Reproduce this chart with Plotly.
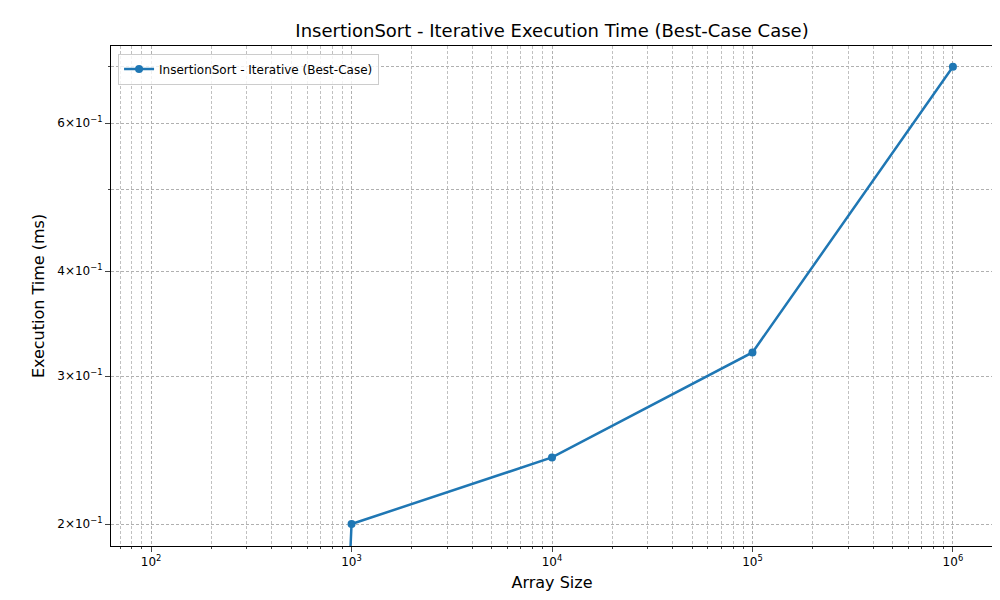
import numpy as np
import plotly.graph_objects as go

sizes = [100, 1000, 10000, 100000, 1000000]
times_ms = [0.0, 0.2, 0.24, 0.32, 0.70]

# log axis can't show 0, clip like matplotlib does (far below the visible range)
y_plot = [t if t > 0 else 1e-6 for t in times_ms]

ytick_vals = [0.2, 0.3, 0.4, 0.6]
ytick_text = ["2×10<sup>−1</sup>", "3×10<sup>−1</sup>", "4×10<sup>−1</sup>", "6×10<sup>−1</sup>"]
ytick_minor = [0.5, 0.7]
xtick_vals = [100, 1000, 10000, 100000, 1000000]
xtick_text = ["10<sup>2</sup>", "10<sup>3</sup>", "10<sup>4</sup>", "10<sup>5</sup>", "10<sup>6</sup>"]
xtick_minor = [m * 10 ** e for e in range(1, 7) for m in range(2, 10)]

fig = go.Figure()
fig.add_trace(go.Scatter(
    x=sizes, y=y_plot, mode="lines+markers",
    name="InsertionSort - Iterative (Best-Case)",
    line=dict(color="#1f77b4", width=2.5),
    marker=dict(color="#1f77b4", size=8),
))

dash = "3px,2px"
fig.update_layout(
    width=1000, height=600,
    paper_bgcolor="white", plot_bgcolor="white",
    margin=dict(l=103, r=15, t=38, b=62),
    font=dict(family="DejaVu Sans", size=12, color="black"),
    title=dict(text="InsertionSort - Iterative Execution Time (Best-Case Case)",
               x=0.544, xanchor="center", y=0.962, yanchor="middle", font=dict(size=18)),
    showlegend=True,
    legend=dict(x=0.008, y=0.985, xanchor="left", yanchor="top",
                bordercolor="#cccccc", borderwidth=1, bgcolor="rgba(255,255,255,0.8)",
                font=dict(size=12)),
    xaxis=dict(type="log", range=[1.8, 6.2], tickvals=xtick_vals, ticktext=xtick_text,
               automargin=False,
               title=dict(text="Array Size", font=dict(size=16), standoff=8),
               showline=True, linecolor="black", mirror=True, ticks="outside",
               zeroline=False, gridcolor="#b0b0b0", griddash=dash, gridwidth=0.6,
               minor=dict(tickvals=xtick_minor, ticks="outside", ticklen=2, showgrid=True,
                          gridcolor="#c0c0c0", griddash=dash, gridwidth=0.5)),
    yaxis=dict(type="log", range=[np.log10(0.1883), np.log10(0.741)],
               tickvals=ytick_vals, ticktext=ytick_text, automargin=False,
               title=dict(text="Execution Time (ms)", font=dict(size=16), standoff=8),
               showline=True, linecolor="black", mirror=True, ticks="outside",
               zeroline=False, gridcolor="#b0b0b0", griddash=dash, gridwidth=0.6,
               minor=dict(tickvals=ytick_minor, ticks="outside", ticklen=2, showgrid=True,
                          gridcolor="#b0b0b0", griddash=dash, gridwidth=0.6)),
)

fig.write_html("out.html")
